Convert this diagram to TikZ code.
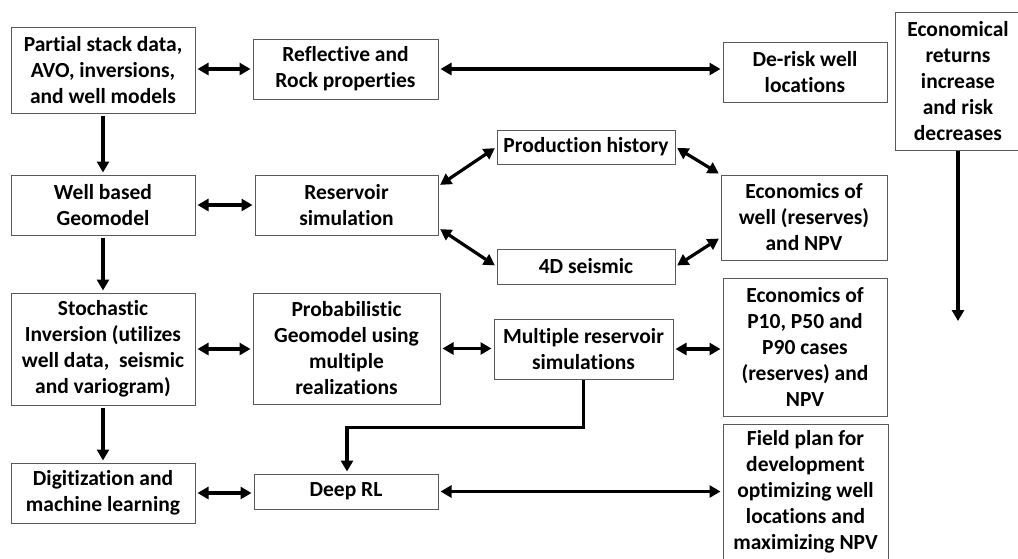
\documentclass[tikz,border=0pt]{standalone}
\usepackage{fontspec}
\setmainfont{Carlito}[Ligatures=NoCommon]
\usetikzlibrary{arrows.meta,calc}
\begin{document}
\begin{tikzpicture}[x=1pt,y=1pt,
  boxst/.style={draw=black!65, line width=1pt, fill=white, align=center,
    font=\fontsize{21.5}{26}\selectfont\bfseries, inner sep=0pt},
  conn/.style={line width=3.2pt, shorten <=2pt, shorten >=2pt},
  both/.style={conn, {Triangle[length=11pt,width=12pt]}-{Triangle[length=11pt,width=12pt]}},
  one/.style={conn, -{Triangle[length=11pt,width=12pt]}}]
\path[use as bounding box, clip] (0,0) rectangle (1018,-558);
% row 1
\node[boxst, minimum width=184, minimum height=86] (ps) at (103,-70) {Partial stack data,\\AVO, inversions,\\and well models};
\node[boxst, minimum width=185, minimum height=60] (rr) at (345.5,-69) {Reflective and\\Rock properties};
\node[boxst, minimum width=164, minimum height=60] (dr) at (805,-72) {De-risk well\\locations};
\node[boxst, minimum width=126, minimum height=138] (ec) at (958,-81) {Economical\\returns\\increase\\and risk\\decreases};
% row 2
\node[boxst, minimum width=178, minimum height=34] (ph) at (586,-147) {Production history};
\node[boxst, minimum width=184, minimum height=60] (wb) at (103,-205) {Well based\\Geomodel};
\node[boxst, minimum width=183, minimum height=60] (rs) at (346.5,-205) {Reservoir\\simulation};
\node[boxst, minimum width=166, minimum height=85] (ew) at (804,-217.5) {Economics of\\well (reserves)\\and NPV};
\node[boxst, minimum width=178, minimum height=35] (fd) at (586,-266.5) {4D seismic};
% row 3
\node[boxst, minimum width=184, minimum height=112] (st) at (103,-349) {Stochastic\\Inversion (utilizes\\well data,\ \ seismic\\and variogram)};
\node[boxst, minimum width=187, minimum height=111] (pg) at (346.5,-348.5) {Probabilistic\\Geomodel using\\multiple\\realizations};
\node[boxst, minimum width=179, minimum height=60] (mr) at (583.5,-349) {Multiple reservoir\\simulations};
\node[boxst, minimum width=164, minimum height=138] (ep) at (805,-347) {Economics of\\P10, P50 and\\P90 cases\\(reserves) and\\NPV};
% row 4
\node[boxst, minimum width=184, minimum height=60] (dm) at (103,-493) {Digitization and\\machine learning};
\node[boxst, minimum width=184, minimum height=35] (rl) at (346,-491.5) {Deep RL};
\node[boxst, minimum width=165, minimum height=135] (fp) at (805.5,-491.5) {Field plan for\\development\\optimizing well\\locations and\\maximizing NPV};
\coordinate (ecend) at (958,-323);
% connectors
\draw[both] (ps.east |- rr.west) -- (rr.west);
\draw[both] (rr.east) -- (rr.east -| dr.west);
\draw[one] (ps.south) -- (wb.north);
\draw[both] (wb.east) -- (rs.west);
\draw[both] ([yshift=19pt]rs.east) -- (ph.west);
\draw[both] ([yshift=-23pt]rs.east) -- (fd.west);
\draw[both] (ph.east) -- (ew.north west);
\draw[both] (fd.east) -- ([yshift=-20pt]ew.west);
\draw[one] (wb.south) -- (st.north);
\draw[both] (st.east) -- (st.east -| pg.west);
\draw[both] (pg.east) -- (pg.east -| mr.west);
\draw[both] (mr.east) -- (mr.east -| ep.west);
\draw[one] (st.south) -- (dm.north);
\draw[both] (dm.east) -- (dm.east -| rl.west);
\draw[both] (rl.east) -- (rl.east -| fp.west);
\draw[one, shorten <=0pt] (mr.south) -- ++(0,-48) -| ([xshift=1pt]rl.north);
\draw[one, shorten <=0pt] (ec.south) -- (ecend);
\end{tikzpicture}
\end{document}
